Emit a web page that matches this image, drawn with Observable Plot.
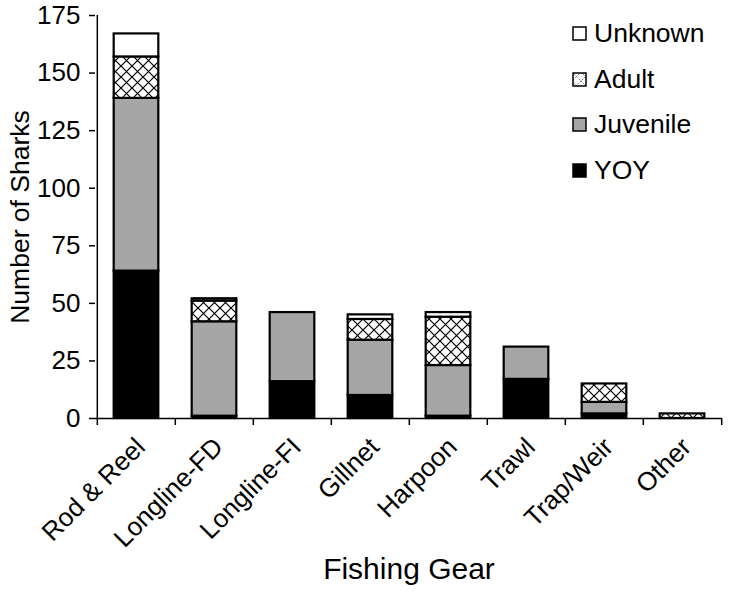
<!DOCTYPE html>
<html>
<head>
<meta charset="utf-8">
<script src="https://cdn.jsdelivr.net/npm/d3@7"></script>
<script src="https://cdn.jsdelivr.net/npm/@observablehq/plot@0.6"></script>
<style>
  html, body { margin: 0; padding: 0; background: #fff; }
  #wrap { position: relative; width: 729px; height: 594px; font-family: "Liberation Sans", Arial, sans-serif; }
  #legend { position: absolute; left: 572px; top: 11px; }
  .row { display: flex; align-items: center; height: 45.5px; font-size: 26.5px; color: #000; }
  .row svg { margin-right: 7px; }
</style>
</head>
<body>
<svg width="0" height="0" style="position:absolute">
  <defs>
    <pattern id="hatch" patternUnits="userSpaceOnUse" width="11" height="11">
      <rect width="11" height="11" fill="#fff"></rect>
      <path d="M0,0L11,11M11,0L0,11" stroke="#000" stroke-width="1.2"></path>
    </pattern>
    <pattern id="hatchS" patternUnits="userSpaceOnUse" width="9" height="9">
      <rect width="9" height="9" fill="#fff"></rect>
      <path d="M0,0L9,9M9,0L0,9" stroke="#555" stroke-width="0.8" stroke-dasharray="1.5,1"></path>
    </pattern>
  </defs>
</svg>
<div id="wrap">
  <div id="chart"></div>
  <div id="legend"></div>
</div>
<script>
const categories = ["Rod & Reel", "Longline-FD", "Longline-FI", "Gillnet", "Harpoon", "Trawl", "Trap/Weir", "Other"];
const stages = ["YOY", "Juvenile", "Adult", "Unknown"];
const yoy      = [64,  1, 16, 10,  1, 17, 2, 0];
const juvenile = [75, 41, 30, 24, 22, 14, 5, 0];
const adult    = [18,  9,  0,  9, 21,  0, 8, 2];
const unknown  = [10,  1,  0,  2,  2,  0, 0, 0];
const yTicks = [0, 25, 50, 75, 100, 125, 150, 175];
const fills = ["#000000", "#a6a6a6", "url(#hatch)", "#ffffff"];

const series = [yoy, juvenile, adult, unknown];
const rows = [];
categories.forEach((c, i) => {
  stages.forEach((s, j) => {
    if (series[j][i] > 0) rows.push({gear: c, stage: s, count: series[j][i]});
  });
});

const W = 729, H = 594, mL = 95, mR = 7, mT = 15, mB = 176;
const step = (W - mL - mR) / categories.length;
const barW = 45;
const ins = (step - barW) / 2;

const plot = Plot.plot({
  width: W,
  height: H,
  marginLeft: mL,
  marginRight: mR,
  marginTop: mT,
  marginBottom: mB,
  style: {fontFamily: "'Liberation Sans', Arial, sans-serif", color: "#000", background: "#fff"},
  x: {domain: categories, padding: 0, axis: null},
  y: {domain: [0, 175], axis: null},
  color: {domain: stages, range: fills},
  marks: [
    Plot.barY(rows, Plot.stackY({
      x: "gear", y: "count", fill: "stage", order: null,
      stroke: "#000", strokeWidth: 2.2, insetLeft: ins, insetRight: ins
    })),
    // y axis line
    Plot.ruleX([categories[0]], {x: d => d, dx: -step / 2, y1: 0, y2: 175, stroke: "#000", strokeWidth: 1.5}),
    Plot.axisY({ticks: yTicks, tickSize: 6, tickPadding: 9, fontSize: 26, label: null, tickFormat: d => d, strokeWidth: 1.5}),
    // x axis baseline and boundary ticks
    Plot.ruleY([0], {stroke: "#000", strokeWidth: 1.5}),
    Plot.ruleX(categories, {x: d => d, dx: -step / 2, y1: 0, y2: 0, insetBottom: -7, stroke: "#000", strokeWidth: 1.5}),
    Plot.ruleX([categories[categories.length - 1]], {x: d => d, dx: step / 2, y1: 0, y2: 0, insetBottom: -7, stroke: "#000", strokeWidth: 1.5}),
    // x tick labels
    Plot.text(categories, {x: d => d, frameAnchor: "bottom", text: d => d, rotate: -45, textAnchor: "end", lineAnchor: "top", dx: -3, dy: 17, fontSize: 26, fill: "#000"}),
    // axis titles
    Plot.text(["Number of Sharks"], {frameAnchor: "left", text: d => d, rotate: -90, textAnchor: "middle", dx: -75, fontSize: 26.5, fill: "#000"}),
    Plot.text(["Fishing Gear"], {frameAnchor: "bottom", text: d => d, textAnchor: "middle", dy: 160, fontSize: 30, fill: "#000"})
  ]
});
document.getElementById("chart").appendChild(plot);

// legend
const legend = document.getElementById("legend");
const legendOrder = ["Unknown", "Adult", "Juvenile", "YOY"];
const legendFill = {YOY: "#000000", Juvenile: "#a6a6a6", Adult: "url(#hatchS)", Unknown: "#ffffff"};
legendOrder.forEach(s => {
  const row = document.createElement("div");
  row.className = "row";
  row.innerHTML = `<svg width="15" height="15"><rect x="1" y="1" width="13" height="13" fill="${legendFill[s]}" stroke="#000" stroke-width="1.5"></rect></svg><span>${s}</span>`;
  legend.appendChild(row);
});
</script>
</body>
</html>
